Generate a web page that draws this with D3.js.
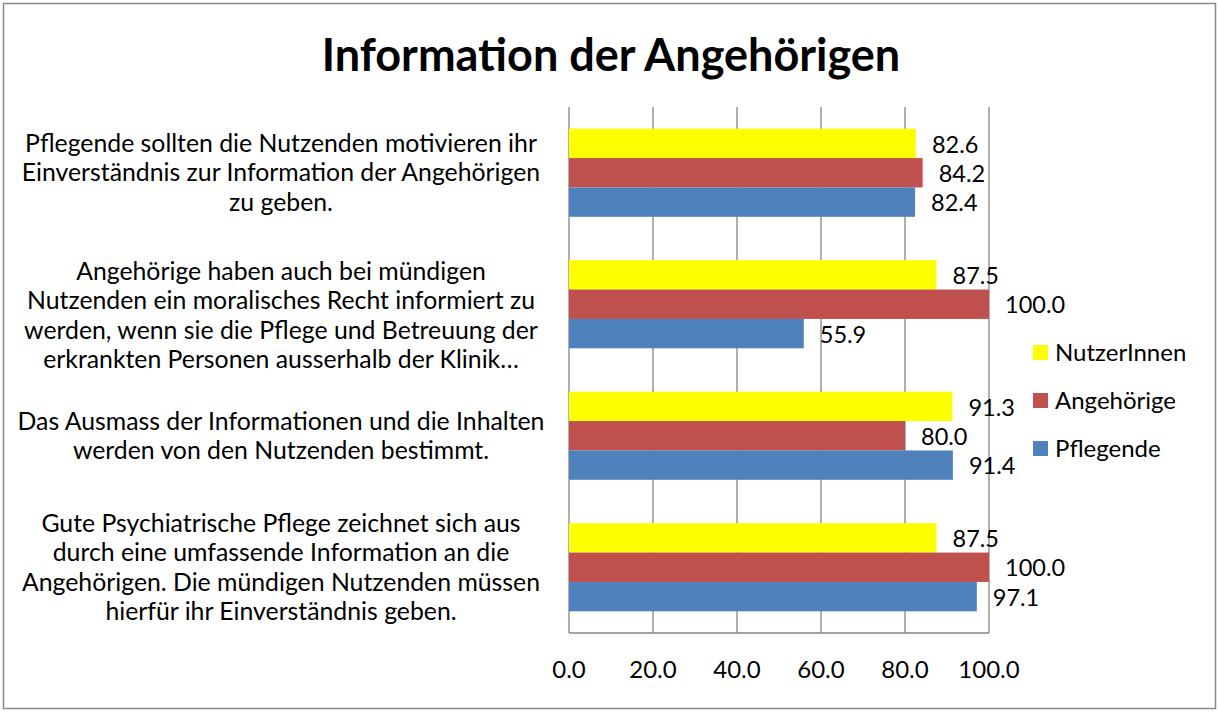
<!DOCTYPE html>
<html lang="de">
<head>
  <meta charset="UTF-8">
  <title>Information der Angehörigen</title>
  <style>
    body { margin: 0; background: #fff; }
    text { font-family: Lato, "Open Sans", sans-serif; fill: #000; }
  </style>
</head>
<body>
  <div id="chart"></div>
  <script src="https://cdn.jsdelivr.net/npm/d3@7"></script>
  <script>
    // categories, top to bottom (lines as shown in the picture)
    const categories = [
      ["Pflegende sollten die Nutzenden motivieren ihr", "Einverständnis zur Information der Angehörigen", "zu geben."],
      ["Angehörige haben auch bei mündigen", "Nutzenden ein moralisches Recht informiert zu", "werden, wenn sie die Pflege und Betreuung der", "erkrankten Personen ausserhalb der Klinik…"],
      ["Das Ausmass der Informationen und die Inhalten", "werden von den Nutzenden bestimmt."],
      ["Gute Psychiatrische Pflege zeichnet sich aus", "durch eine umfassende Information an die", "Angehörigen. Die mündigen Nutzenden müssen", "hierfür ihr Einverständnis geben."]
    ];
    const seriesNames = ["NutzerInnen", "Angehörige", "Pflegende"];
    const nutzerInnen = [82.6, 87.5, 91.3, 87.5];
    const angehoerige = [84.2, 100.0, 80.0, 100.0];
    const pflegende = [82.4, 55.9, 91.4, 97.1];
    const xTicks = [0, 20, 40, 60, 80, 100];

    const seriesValues = [nutzerInnen, angehoerige, pflegende];
    const colors = ["#FFFF00", "#C0504D", "#4F81BD"];

    const W = 1219, H = 712;
    const plot = { left: 569, right: 989, top: 107, bottom: 633 };

    const svg = d3.select("#chart").append("svg")
      .attr("width", W)
      .attr("height", H);

    // outer frame
    svg.append("rect")
      .attr("x", 3.5).attr("y", 3.5)
      .attr("width", W - 7).attr("height", H - 7)
      .attr("fill", "#fff")
      .attr("stroke", "#898989")
      .attr("stroke-width", 1.5);

    // title
    svg.append("text")
      .attr("x", 611).attr("y", 71)
      .attr("text-anchor", "middle")
      .style("font-size", "45px")
      .style("font-weight", "bold")
      .text("Information der Angehörigen");

    const x = d3.scaleLinear().domain([0, 100]).range([plot.left, plot.right]);
    const y = d3.scaleBand()
      .domain(d3.range(categories.length))
      .range([plot.top, plot.bottom])
      .paddingInner(0.33)
      .paddingOuter(0.165);
    const ySub = d3.scaleBand()
      .domain(d3.range(seriesNames.length))
      .range([0, y.bandwidth()]);

    // vertical gridlines
    svg.append("g")
      .selectAll("line")
      .data(xTicks)
      .join("line")
      .attr("x1", d => x(d)).attr("x2", d => x(d))
      .attr("y1", plot.top).attr("y2", plot.bottom)
      .attr("stroke", "#868686")
      .attr("stroke-width", 1.3);

    // bottom axis line
    svg.append("line")
      .attr("x1", plot.left).attr("x2", plot.right)
      .attr("y1", plot.bottom).attr("y2", plot.bottom)
      .attr("stroke", "#868686")
      .attr("stroke-width", 1.3);

    // x tick labels
    svg.append("g")
      .selectAll("text")
      .data(xTicks)
      .join("text")
      .attr("x", d => x(d))
      .attr("y", 670)
      .attr("dy", "0.35em")
      .attr("text-anchor", "middle")
      .style("font-size", "24px")
      .text(d => d3.format(".1f")(d));

    // bars
    seriesValues.forEach((vals, s) => {
      const g = svg.append("g");
      g.selectAll("rect")
        .data(vals)
        .join("rect")
        .attr("x", x(0))
        .attr("y", (d, i) => y(i) + ySub(s))
        .attr("width", d => x(d) - x(0))
        .attr("height", ySub.bandwidth())
        .attr("fill", colors[s]);

      g.selectAll("text")
        .data(vals)
        .join("text")
        .attr("x", d => x(d) + 16)
        .attr("y", (d, i) => y(i) + ySub(s) + ySub.bandwidth() / 2 + 1)
        .attr("dy", "0.35em")
        .style("font-size", "23.5px")
        .text(d => d3.format(".1f")(d));
    });

    // category labels (the truncated one sits a bit lower)
    const lineH = 29.3;
    categories.forEach((lines, i) => {
      const shift = i === 1 ? 11 : 0;
      const cy = y(i) + y.bandwidth() / 2 + shift;
      const t = svg.append("text")
        .attr("text-anchor", "middle")
        .style("font-size", "24.8px");
      lines.forEach((ln, k) => {
        t.append("tspan")
          .attr("x", 281)
          .attr("y", cy + (k - (lines.length - 1) / 2) * lineH)
          .attr("dy", "0.35em")
          .text(ln);
      });
    });

    // legend
    const legend = svg.append("g").attr("transform", "translate(1033, 353)");
    seriesNames.forEach((name, i) => {
      const item = legend.append("g").attr("transform", `translate(0, ${i * 48})`);
      item.append("rect")
        .attr("x", 0).attr("y", -8)
        .attr("width", 15).attr("height", 15)
        .attr("fill", colors[i]);
      item.append("text")
        .attr("x", 22).attr("y", 0)
        .attr("dy", "0.35em")
        .style("font-size", "24px")
        .text(name);
    });
  </script>
</body>
</html>
